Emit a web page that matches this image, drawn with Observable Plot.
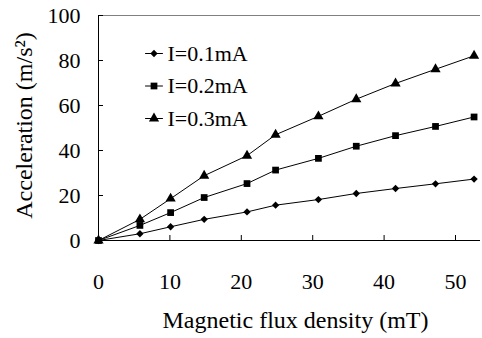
<!DOCTYPE html>
<html><head><meta charset="utf-8">
<script src="https://cdn.jsdelivr.net/npm/d3@7"></script>
<script src="https://cdn.jsdelivr.net/npm/@observablehq/plot@0.6"></script>
<style>html,body{margin:0;padding:0;background:#fff}</style>
</head><body><div id="chart"></div>
<script>
const flux = [0, 5.8, 10.1, 14.8, 20.8, 24.8, 30.8, 36.1, 41.6, 47.2, 52.6];
const accel01 = [0, 3.0, 6.1, 9.4, 12.7, 15.7, 18.2, 20.9, 23.1, 25.2, 27.3];
const accel02 = [0, 6.7, 12.4, 19.1, 25.3, 31.3, 36.5, 41.9, 46.6, 50.7, 54.9];
const accel03 = [0, 9.4, 18.6, 28.8, 37.7, 47.0, 55.2, 62.8, 69.8, 76.1, 82.1];
const seriesNames = ["I=0.1mA", "I=0.2mA", "I=0.3mA"];
const seriesSymbols = ["diamond2", "square", "triangle"];
const seriesSizes = [3.3, 3.8, 3.8];
const xTicks = [0, 10, 20, 30, 40, 50];
const yTicks = [0, 20, 40, 60, 80, 100];
const xTitle = "Magnetic flux density (mT)";
const yTitle = "Acceleration (m/s²)";

const allSeries = [accel01, accel02, accel03];
const rows = allSeries.flatMap((vals, i) =>
  vals.map((v, j) => ({x: flux[j], y: v, s: seriesNames[i], i})));

const FONT = "Liberation Serif, Times New Roman, serif";
const legendShape = {draw(ctx, l) { ctx.moveTo(-l / 2, 0); ctx.lineTo(l / 2, 0); }};

const marks = [
  Plot.ruleY([yTicks[yTicks.length - 1]], {stroke: "#808080", strokeWidth: 1}),
  Plot.ruleX([xTicks[0]], {stroke: "#000", strokeWidth: 1}),
  Plot.ruleY([yTicks[0]], {stroke: "#000", strokeWidth: 1}),
  Plot.axisX(xTicks, {tickSize: -5, tickPadding: 38, fontSize: 22, label: null, stroke: "#000"}),
  Plot.axisY(yTicks, {tickSize: -5, tickPadding: 23, fontSize: 22, label: null, stroke: "#000"}),
  Plot.line(rows, {x: "x", y: "y", z: "s", stroke: "#000", strokeWidth: 1}),
  ...seriesNames.map((name, i) =>
    Plot.dot(rows.filter(d => d.i === i), {x: "x", y: "y", symbol: () => seriesSymbols[i], r: seriesSizes[i], fill: "#000", stroke: "none"})),
  ...seriesNames.map((name, i) => [
    Plot.vector([name], {frameAnchor: "top-left", dx: 55.5, dy: 38 + i * 32.5, length: 17, anchor: "start", shape: legendShape, stroke: "#000", strokeWidth: 1}),
    Plot.dot([name], {frameAnchor: "top-left", dx: 55.5, dy: 38 + i * 32.5, symbol: () => seriesSymbols[i], r: seriesSizes[i], fill: "#000", stroke: "none"}),
    Plot.text([name], {frameAnchor: "top-left", dx: 69, dy: 38 + i * 32.5, text: d => d, textAnchor: "start", lineAnchor: "middle", fontSize: 22, fill: "#000"})
  ]),
  Plot.text([xTitle], {frameAnchor: "bottom", dx: 6, dy: 80, text: d => d, textAnchor: "middle", lineAnchor: "middle", fontSize: 24, fill: "#000"}),
  Plot.text([yTitle], {frameAnchor: "left", dx: -74, dy: -2.5, text: d => d, rotate: -90, textAnchor: "middle", lineAnchor: "middle", fontSize: 24, fill: "#000"})
];

const chart = Plot.plot({
  width: 482,
  height: 338,
  marginLeft: 98,
  marginRight: 2,
  marginTop: 15,
  marginBottom: 98,
  style: {fontFamily: FONT, fontSize: "22px", background: "#fff", color: "#000", overflow: "visible"},
  x: {domain: [0, 53.5], axis: null},
  y: {domain: [0, 100], axis: null},
  symbol: {type: "identity"},
  marks
});
document.getElementById("chart").appendChild(chart);
</script>
</body></html>
